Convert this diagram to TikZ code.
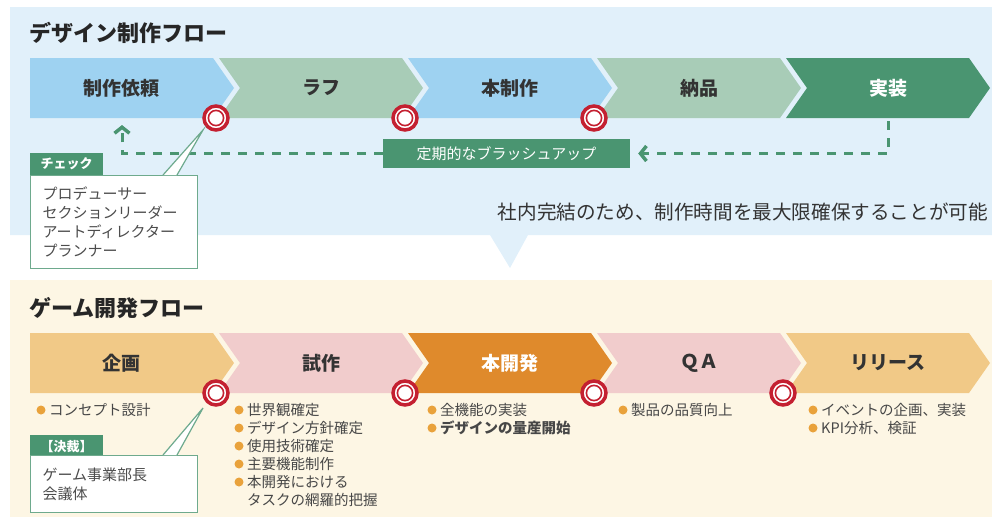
\documentclass[tikz,border=0pt]{standalone}
\usepackage{fontspec}
\setmainfont{Noto Sans CJK JP}
\usetikzlibrary{arrows.meta}

\definecolor{skyback}{HTML}{E1F0FA}
\definecolor{creamback}{HTML}{FDF6E4}
\definecolor{skyblue}{HTML}{9ED2F1}
\definecolor{sage}{HTML}{A8CCB7}
\definecolor{deepgreen}{HTML}{4A9571}
\definecolor{lineorange}{HTML}{F1C987}
\definecolor{pinkstep}{HTML}{F1CCCC}
\definecolor{deeporange}{HTML}{DF8A2C}
\definecolor{targetred}{HTML}{C42031}
\definecolor{bulletorange}{HTML}{E9A23B}

\begin{document}
\begin{tikzpicture}[x=1pt, y=-1pt,
		title/.style={anchor=west, inner sep=0pt, font=\fontsize{22}{22}\selectfont\bfseries, text=black!85},
		chevtext/.style={inner sep=0pt, font=\fontsize{19}{19}\selectfont\bfseries},
		target/.style={circle, fill=white, draw=targetred, line width=3.5pt, minimum size=24pt, inner sep=0pt,
			path picture={\draw[targetred, line width=1.6pt] (path picture bounding box.center) circle (7.6pt);}},
		loopline/.style={draw=deepgreen, line width=3pt, dash pattern=on 9pt off 8pt},
		looptip/.style={-{Straight Barb[length=6pt, width=15pt, line width=3.5pt]}},
		tab/.style={anchor=north west, fill=deepgreen, text=white, minimum width=73pt, minimum height=22pt,
			inner sep=0pt, font=\fontsize{13}{13}\selectfont\bfseries},
		callbox/.style={anchor=north west, fill=white, draw=deepgreen!80, line width=1.2pt, minimum width=167pt,
			text width=143pt, inner xsep=12pt, align=left, text=black!70, font=\fontsize{15}{19}\selectfont},
		dot/.style={circle, fill=bulletorange, inner sep=0pt, minimum size=9pt},
		item/.style={anchor=west, inner sep=0pt, text=black!72, font=\fontsize{14.5}{14.5}\selectfont}]
	\useasboundingbox (0,0) rectangle (992,517);

	% backgrounds
	\fill[skyback] (10,7) -- (992,7) -- (992,235) -- (528,235) -- (510,268) -- (490,235) -- (10,235) -- cycle;
	\fill[creamback] (10,280) rectangle (992,517);

	\node[title] (designtitle) at (29,33) {デザイン制作フロー};
	\node[title] (gametitle) at (29,308) {ゲーム開発フロー};

	% design flow
	\foreach \i/\lab/\col/\txt in {0/制作依頼/skyblue/black!80, 1/ラフ/sage/black!80, 2/本制作/skyblue/black!80, 3/納品/sage/black!80, 4/実装/deepgreen/white}
	{
		\pgfmathsetmacro\xl{30+189*\i}
		\pgfmathsetmacro\xr{213+189*\i}
		\pgfmathparse{\i==0 ? 0 : 21}
		\edef\notch{\pgfmathresult}
		\fill[\col] (\xl,58) -- (\xr,58) -- (\xr+21,88) -- (\xr,118) -- (\xl,118) -- (\xl+\notch,88) -- cycle;
		\node[chevtext, text=\txt] (d\i) at ({(\xl+\notch+\xr)/2},88) {\lab};
	}
	\foreach \i in {0, ..., 2}
		\node[target] (dt\i) at (216+189*\i,118) {};

	% game flow
	\foreach \i/\lab/\col/\txt in {0/企画/lineorange/black!80, 1/試作/pinkstep/black!80, 2/本開発/deeporange/white, 3/ＱＡ/pinkstep/black!80, 4/リリース/lineorange/black!80}
	{
		\pgfmathsetmacro\xl{30+189*\i}
		\pgfmathsetmacro\xr{213+189*\i}
		\pgfmathparse{\i==0 ? 0 : 21}
		\edef\notch{\pgfmathresult}
		\fill[\col] (\xl,333) -- (\xr,333) -- (\xr+21,363) -- (\xr,393) -- (\xl,393) -- (\xl+\notch,363) -- cycle;
		\node[chevtext, text=\txt] (g\i) at ({(\xl+\notch+\xr)/2},363) {\lab};
	}
	\foreach \i in {0, ..., 3}
		\node[target] (gt\i) at (216+189*\i,393) {};

	% brush-up loop
	\node[fill=deepgreen, text=white, minimum width=247pt, minimum height=29pt, inner sep=0pt,
		font=\fontsize{15}{15}\selectfont] (brush) at (506.5,153.5) {定期的なブラッシュアップ};
	\coordinate (backto) at (122,125);
	\coordinate (jisoufoot) at (888,121);
	\draw[loopline, looptip] (brush.west) -| (backto);
	\draw[loopline, looptip, shorten >=8pt] (jisoufoot) |- (brush.east);

	\node[anchor=east, inner sep=0pt, text=black!80, font=\fontsize{19.6}{19.6}\selectfont] (inhouse) at (988,212)
		{社内完結のため、制作時間を最大限確保することが可能};

	% check callout
	\node[tab] (checktab) at (30,153) {チェック};
	\node[callbox, minimum height=93pt] (checkbox) at (30,175)
		{プロデューサー\\セクションリーダー\\アートディレクター\\プランナー};
	\coordinate (checktip) at (203,130);
	\fill[white] ([xshift=133pt]checkbox.north west) -- (checktip) -- ([xshift=147pt]checkbox.north west) -- cycle;
	\draw[deepgreen!80, line width=1.2pt] ([xshift=133pt]checkbox.north west) -- (checktip) -- ([xshift=147pt]checkbox.north west);

	% decision callout
	\node[tab] (decidetab) at (30,435) {【決裁】};
	\node[callbox, minimum height=57pt] (decidebox) at (30,455) {ゲーム事業部長\\会議体};
	\coordinate (decidetip) at (203,408);
	\fill[white] ([xshift=133pt]decidebox.north west) -- (decidetip) -- ([xshift=147pt]decidebox.north west) -- cycle;
	\draw[deepgreen!80, line width=1.2pt] ([xshift=133pt]decidebox.north west) -- (decidetip) -- ([xshift=147pt]decidebox.north west);

	% items
	\foreach \x/\y/\t [count=\n] in {41/410/コンセプト設計, 239/410/世界観確定, 239/428/デザイン方針確定, 239/446/使用技術確定,
		239/464/主要機能制作, 239/482/本開発における, 432/410/全機能の実装, 432/428/{\textbf{デザインの量産開始}},
		623/410/製品の品質向上, 813/410/イベントの企画、実装, 813/428/KPI分析、検証}
	{
		\node[dot] (bul\n) at (\x,\y) {};
		\node[item] (itm\n) at (\x+8,\y) {\t};
	}
	\node[item] (itmtask) at (247,500) {タスクの網羅的把握};
\end{tikzpicture}
\end{document}
